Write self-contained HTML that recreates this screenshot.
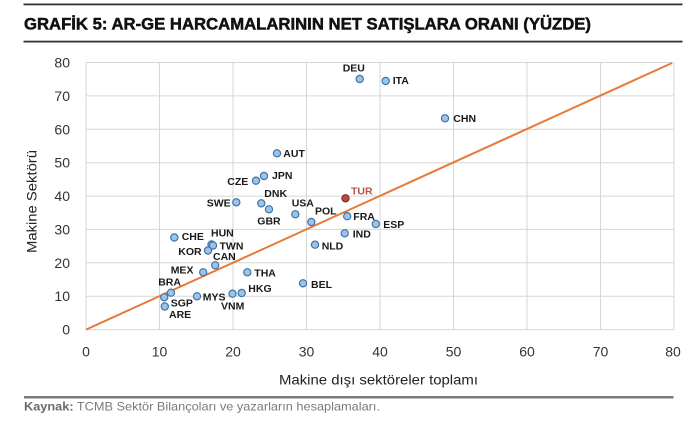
<!DOCTYPE html>
<html>
<head>
<meta charset="utf-8">
<style>
html,body{margin:0;padding:0;background:#fff;}
svg{display:block;}
text{font-family:"Liberation Sans",sans-serif;}
</style>
</head>
<body>
<svg width="700" height="444" viewBox="0 0 700 444" xmlns="http://www.w3.org/2000/svg">
<rect width="700" height="444" fill="#fff"/>
<!-- title rules -->
<rect x="23.5" y="3.5" width="659" height="1.8" fill="#333"/>
<rect x="23.5" y="40.7" width="659" height="1.8" fill="#333"/>
<text x="24" y="29.3" font-size="16.5" font-weight="bold" fill="#111" stroke="#111" stroke-width="0.5" textLength="567" lengthAdjust="spacingAndGlyphs">GRAFİK 5: AR-GE HARCAMALARININ NET SATIŞLARA ORANI (YÜZDE)</text>

<!-- gridlines -->
<g stroke="#d6d6d6" stroke-width="1" fill="none">
<line x1="86" y1="62.5" x2="674" y2="62.5"/>
<line x1="86" y1="95.9" x2="674" y2="95.9"/>
<line x1="86" y1="129.3" x2="674" y2="129.3"/>
<line x1="86" y1="162.7" x2="674" y2="162.7"/>
<line x1="86" y1="196.1" x2="674" y2="196.1"/>
<line x1="86" y1="229.4" x2="674" y2="229.4"/>
<line x1="86" y1="262.8" x2="674" y2="262.8"/>
<line x1="86" y1="296.2" x2="674" y2="296.2"/>
<line x1="86" y1="329.6" x2="674" y2="329.6"/>
<line x1="86" y1="62.5" x2="86" y2="329.6"/>
<line x1="159.5" y1="62.5" x2="159.5" y2="329.6"/>
<line x1="233" y1="62.5" x2="233" y2="329.6"/>
<line x1="306.5" y1="62.5" x2="306.5" y2="329.6"/>
<line x1="380" y1="62.5" x2="380" y2="329.6"/>
<line x1="453.5" y1="62.5" x2="453.5" y2="329.6"/>
<line x1="527" y1="62.5" x2="527" y2="329.6"/>
<line x1="600.5" y1="62.5" x2="600.5" y2="329.6"/>
<line x1="674" y1="62.5" x2="674" y2="329.6"/>
</g>

<!-- y tick labels -->
<g font-size="14" fill="#333" text-anchor="end">
<text x="70" y="67.5">80</text>
<text x="70" y="100.9">70</text>
<text x="70" y="134.3">60</text>
<text x="70" y="167.7">50</text>
<text x="70" y="201.1">40</text>
<text x="70" y="234.4">30</text>
<text x="70" y="267.8">20</text>
<text x="70" y="301.2">10</text>
<text x="70" y="334.6">0</text>
</g>
<!-- x tick labels -->
<g font-size="14" fill="#333" text-anchor="middle">
<text x="86" y="356.7">0</text>
<text x="159.5" y="356.7">10</text>
<text x="233" y="356.7">20</text>
<text x="306.5" y="356.7">30</text>
<text x="380" y="356.7">40</text>
<text x="453.5" y="356.7">50</text>
<text x="527" y="356.7">60</text>
<text x="600.5" y="356.7">70</text>
<text x="673" y="356.7">80</text>
</g>

<!-- axis titles -->
<text x="279" y="384.3" font-size="14" fill="#222" textLength="199" lengthAdjust="spacingAndGlyphs">Makine dışı sektöreler toplamı</text>
<text transform="translate(36.5,253) rotate(-90)" x="0" y="0" font-size="14" fill="#222" textLength="103" lengthAdjust="spacingAndGlyphs">Makine Sektörü</text>

<!-- 45 deg line -->
<line x1="86" y1="329.6" x2="672" y2="63" stroke="#E8793A" stroke-width="2"/>

<!-- points -->
<g fill="#9DC3E6" stroke="#3F74A8" stroke-width="1.2">
<circle cx="359.7" cy="79" r="3.6"/>
<circle cx="385.7" cy="81" r="3.6"/>
<circle cx="445" cy="118.3" r="3.6"/>
<circle cx="277" cy="153.3" r="3.6"/>
<circle cx="264" cy="176" r="3.6"/>
<circle cx="256" cy="180.7" r="3.6"/>
<circle cx="236.3" cy="202.3" r="3.6"/>
<circle cx="261.3" cy="203.3" r="3.6"/>
<circle cx="269" cy="209.3" r="3.6"/>
<circle cx="295.3" cy="214.3" r="3.6"/>
<circle cx="311.3" cy="222" r="3.6"/>
<circle cx="347.2" cy="216.2" r="3.6"/>
<circle cx="375.8" cy="224" r="3.6"/>
<circle cx="344.7" cy="233.3" r="3.6"/>
<circle cx="315" cy="244.7" r="3.6"/>
<circle cx="174.3" cy="237.5" r="3.6"/>
<circle cx="211.5" cy="244.5" r="3.6"/>
<circle cx="213" cy="245.5" r="3.6"/>
<circle cx="208" cy="250.5" r="3.6"/>
<circle cx="215.2" cy="265.3" r="3.6"/>
<circle cx="203.2" cy="272.3" r="3.6"/>
<circle cx="247.3" cy="272.3" r="3.6"/>
<circle cx="171" cy="292.7" r="3.6"/>
<circle cx="164.2" cy="297.3" r="3.6"/>
<circle cx="164.8" cy="306.5" r="3.6"/>
<circle cx="197" cy="296.3" r="3.6"/>
<circle cx="232.5" cy="293.7" r="3.6"/>
<circle cx="241.7" cy="293" r="3.6"/>
<circle cx="303" cy="283.3" r="3.6"/>
</g>
<circle cx="345.5" cy="198.3" r="3.6" fill="#B84A3E" stroke="#7A2E25" stroke-width="1.2"/>

<!-- labels -->
<g font-size="10.5" font-weight="bold" fill="#1a1a1a">
<text x="342.7" y="71.5">DEU</text>
<text x="392.7" y="84.1">ITA</text>
<text x="453.3" y="122.1">CHN</text>
<text x="283.3" y="157.1">AUT</text>
<text x="272" y="178.8">JPN</text>
<text x="227.3" y="184.8">CZE</text>
<text x="206.7" y="206.5">SWE</text>
<text x="264.3" y="197.1">DNK</text>
<text x="257.3" y="224.5">GBR</text>
<text x="291.7" y="206.5">USA</text>
<text x="315" y="214.3">POL</text>
<text x="353.3" y="219.8">FRA</text>
<text x="383.3" y="227.8">ESP</text>
<text x="352.7" y="237.5">IND</text>
<text x="321.7" y="249.3">NLD</text>
<text x="181.7" y="239.8">CHE</text>
<text x="211" y="236.3">HUN</text>
<text x="219.5" y="249.6">TWN</text>
<text x="178.3" y="254.8">KOR</text>
<text x="213" y="260.1">CAN</text>
<text x="170.7" y="273.5">MEX</text>
<text x="254.3" y="276.5">THA</text>
<text x="158.2" y="285.5">BRA</text>
<text x="170.7" y="306.3">SGP</text>
<text x="169" y="317.8">ARE</text>
<text x="202.8" y="300.3">MYS</text>
<text x="221" y="309.3">VNM</text>
<text x="248.3" y="292.1">HKG</text>
<text x="311" y="288.1">BEL</text>
</g>
<text x="351" y="194.5" font-size="10.5" font-weight="bold" fill="#B5524A">TUR</text>

<!-- source rule and caption -->
<rect x="24" y="396" width="649.5" height="2.5" fill="#7a7a7a"/>
<text x="24" y="410.7" font-size="12" fill="#7a7a7a" textLength="356" lengthAdjust="spacingAndGlyphs"><tspan font-weight="bold" fill="#6a6a6a">Kaynak:</tspan> TCMB Sektör Bilançoları ve yazarların hesaplamaları.</text>
</svg>
</body>
</html>
